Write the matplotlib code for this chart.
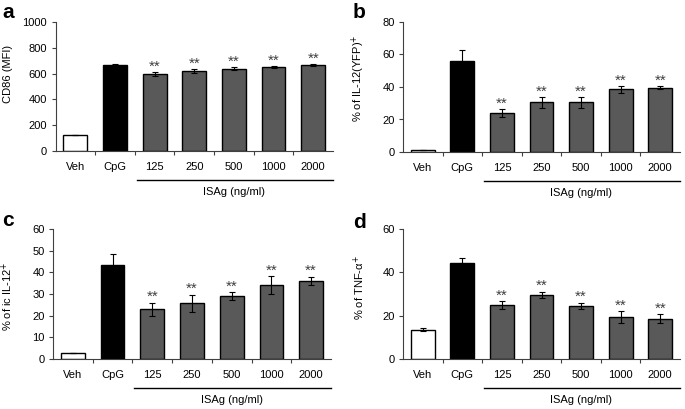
import matplotlib
matplotlib.use('Agg')
import matplotlib.pyplot as plt
from matplotlib.transforms import offset_copy
import numpy as np

plt.rcParams['font.family'] = ['Liberation Sans', 'DejaVu Sans']

groups = ['Veh', 'CpG', '125', '250', '500', '1000', '2000']

cd86 = [125, 670, 595, 620, 638, 652, 668]
cd86_err = [0, 6, 15, 15, 10, 5, 8]

il12_yfp = [1.5, 56, 24, 30.5, 30.5, 38.5, 39.5]
il12_yfp_err = [0, 6.5, 2.2, 3.3, 3.3, 2.0, 1.0]

ic_il12 = [2.8, 43.5, 23, 25.7, 29, 34, 36]
ic_il12_err = [0, 5, 3, 4, 1.7, 4.2, 2]

tnfa = [13.5, 44.5, 24.8, 29.6, 24.5, 19.3, 18.6]
tnfa_err = [0.8, 2, 1.8, 1.5, 1.5, 2.8, 2]

stars = ['', '', '**', '**', '**', '**', '**']
bar_colors = ['white', 'black', '#595959', '#595959', '#595959', '#595959', '#595959']

W, H = 685, 409

# left, right, bottom, top in pixels
panels = [
    ('a', cd86, cd86_err, 'CD86 (MFI)', 1000, 200, (55.5, 333, 151, 22), (-0.153, 0.6), (2, 3)),
    ('b', il12_yfp, il12_yfp_err, '% of IL-12(YFP)$^{+}$', 80, 20, (403, 680, 152, 22), (-0.13, 0.57), (353, 3)),
    ('c', ic_il12, ic_il12_err, '% of ic IL-12$^{+}$', 60, 10, (53, 331, 359, 229), (-0.137, 0.48), (2, 211)),
    ('d', tnfa, tnfa_err, '% of TNF-α$^{+}$', 60, 20, (403, 680, 359, 229), (-0.13, 0.55), (353, 213)),
]

fig = plt.figure(figsize=(W / 100, H / 100), dpi=100)

for letter, vals, errs, ylabel, ymax, ystep, box, lab_xy, let_xy in panels:
    l, r, b, t = box
    ax = fig.add_axes([l / W, 1 - b / H, (r - l) / W, (b - t) / H])
    x = np.arange(len(groups))
    ax.bar(x, vals, width=0.6, color=bar_colors, edgecolor='black', linewidth=1.0, zorder=2)
    ax.errorbar(x, vals, yerr=errs, fmt='none', ecolor='black', elinewidth=0.8,
                capsize=2.5, capthick=0.8, zorder=3)
    for xi, v, e, s in zip(x, vals, errs, stars):
        if s:
            ax.annotate(s, (xi, v + e), xytext=(0, 1), textcoords='offset points',
                        ha='center', va='baseline', fontsize=11, color='#404040')

    ax.set_xlim(-0.5, 6.5)
    ax.set_ylim(0, ymax)
    ax.set_yticks(np.arange(0, ymax + 1, ystep))
    ax.set_xticks(x)
    ax.set_xticklabels(groups, fontsize=8)
    ax.set_xticks(np.arange(0.5, 6, 1), minor=True)
    ax.tick_params(axis='x', which='major', length=0, pad=8)
    ax.tick_params(axis='x', which='minor', length=3, width=0.8, direction='out', color='#404040')
    ax.tick_params(axis='y', labelsize=8, length=3, width=0.8, color='#404040', pad=3)
    for sp in ['top', 'right']:
        ax.spines[sp].set_visible(False)
    for sp in ['left', 'bottom']:
        ax.spines[sp].set_linewidth(0.8)
        ax.spines[sp].set_color('#404040')

    ax.set_ylabel(ylabel, fontsize=8)
    ax.yaxis.set_label_coords(*lab_xy)

    # underline for ISAg group and label
    trans = offset_copy(ax.get_xaxis_transform(), fig=fig, x=0, y=-29, units='dots')
    ax.plot([1.55, 6.5], [0, 0], color='black', lw=1.0, transform=trans, clip_on=False)
    trans2 = offset_copy(ax.get_xaxis_transform(), fig=fig, x=0, y=-41, units='dots')
    ax.text(4.0, 0, 'ISAg (ng/ml)', transform=trans2, ha='center', va='center', fontsize=8)

    fig.text(let_xy[0] / W, 1 - let_xy[1] / H, letter, fontsize=15, fontweight='bold',
             ha='left', va='top')

fig.savefig('out.png', dpi=100)
